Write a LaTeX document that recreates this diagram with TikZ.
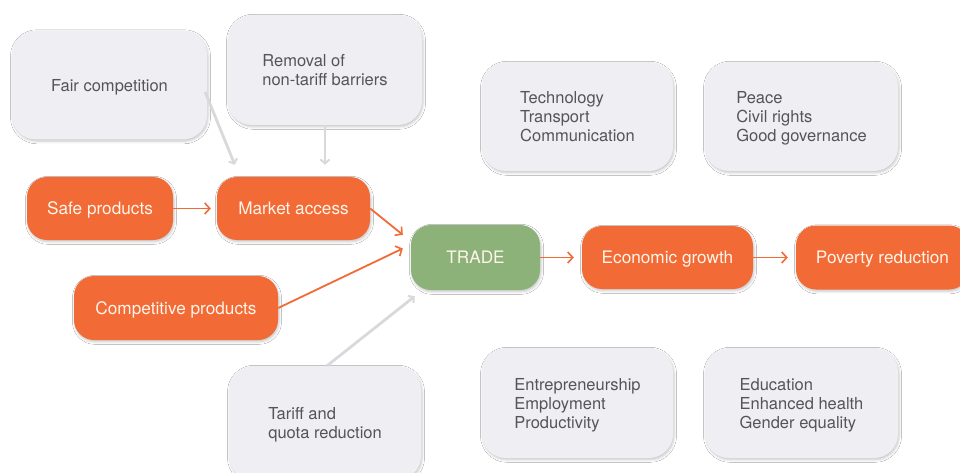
\documentclass[tikz,border=0pt]{standalone}
\usepackage{fontspec}
\setmainfont{TeX Gyre Heros}
\usetikzlibrary{arrows.meta,shadows.blur,calc}
\definecolor{orangebox}{HTML}{F26A36}
\definecolor{greenbox}{HTML}{8CB27A}
\definecolor{graybox}{HTML}{EFEFF3}
\definecolor{graytext}{HTML}{555558}
\definecolor{grayline}{HTML}{D9D9DC}
\definecolor{creamtext}{HTML}{FFF5EA}
\begin{document}
\begin{tikzpicture}[x=1pt,y=-1pt,
  base/.style={rounded corners=20pt, inner sep=0pt,
     blur shadow={shadow xshift=1pt, shadow yshift=-1.8pt, shadow blur radius=2.5pt, shadow opacity=22}},
  gbox/.style={base, fill=graybox, text=graytext, align=left, rounded corners=24pt,
     text depth=0pt, font=\fontsize{16.5}{19}\selectfont},
  obox/.style={base, fill=orangebox, text=creamtext, text depth=0pt,
     font=\fontsize{17.2}{20}\selectfont},
  tbox/.style={obox, fill=greenbox},
  oarrow/.style={draw=orangebox, line width=1.8pt, -{Straight Barb[length=5pt,width=11pt,line width=1.6pt]}},
  garrow/.style={draw=grayline, line width=2.8pt, -{Straight Barb[length=4pt,width=9pt,line width=2pt]}}
]
\useasboundingbox (0,0) rectangle (960,473);
\clip (0,0) rectangle (960,473);
\fill[white] (0,0) rectangle (960,473);

% gray boxes
\node[gbox, minimum width=195pt, minimum height=109pt] (fair) at (109.5,85) {Fair competition};
\node[gbox, minimum width=194pt, minimum height=110pt] (removal) at (325,70) {Removal of\\non-tariff barriers};
\node[gbox, minimum width=191pt, minimum height=109pt] (tech) at (577.5,116.5) {Technology\\Transport\\Communication};
\node[gbox, minimum width=193pt, minimum height=109pt] (peace) at (801.5,116.5) {Peace\\Civil rights\\Good governance};
\node[gbox, minimum width=191pt, minimum height=110pt] (entre) at (577.5,403) {Entrepreneurship\\Employment\\Productivity};
\node[gbox, minimum width=193pt, minimum height=110pt] (edu) at (801.5,403) {Education\\Enhanced health\\Gender equality};
\node[gbox, minimum width=192pt, minimum height=114pt] (tariff) at (325,423) {Tariff and\\quota reduction};

% orange / green boxes
\node[obox, minimum width=146pt, minimum height=63pt] (safe) at (100,208.5) {Safe products};
\node[obox, minimum width=153pt, minimum height=63pt] (market) at (293.5,208.5) {Market access};
\node[obox, minimum width=204pt, minimum height=64pt] (comp) at (176,308) {Competitive products};
\node[tbox, minimum width=129pt, minimum height=65pt] (trade) at (475.5,257.5) {TRADE};
\node[obox, minimum width=171pt, minimum height=63pt] (econ) at (667.5,257.5) {Economic growth};
\node[obox, minimum width=173pt, minimum height=64pt] (poverty) at (882.5,257.5) {Poverty reduction};

% gray connectors
\draw[garrow] ([xshift=-2pt,yshift=-7pt]fair.east) -- ([xshift=18pt,yshift=12pt]market.north west);
\draw[garrow] (removal.south) -- ([yshift=12pt]removal.south |- market.north);
\draw[garrow] ([xshift=2pt]tariff.north) -- ([xshift=4pt,yshift=-6pt]trade.south west);

% orange connectors
\draw[oarrow] (safe.east) -- ([xshift=-6pt]market.west);
\draw[oarrow] (market.east) -- ([xshift=-8pt,yshift=-10pt]trade.north west);
\draw[oarrow] (comp.east) -- ([xshift=-8pt,yshift=9pt]trade.west);
\draw[oarrow] (trade.east) -- ([xshift=-8pt]econ.west);
\draw[oarrow] (econ.east) -- ([xshift=-8pt]poverty.west);
\end{tikzpicture}
\end{document}
